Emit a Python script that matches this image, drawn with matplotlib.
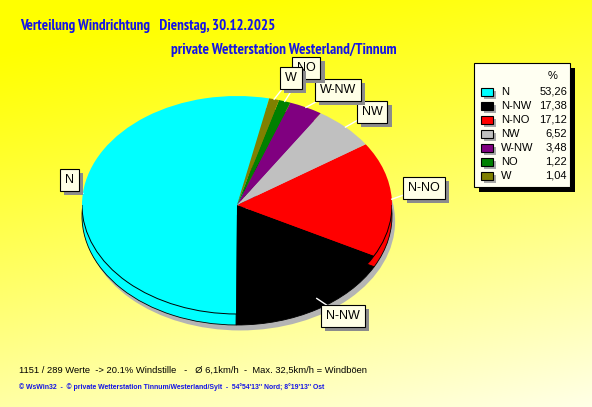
import numpy as np
import matplotlib.pyplot as plt
from matplotlib import font_manager
from matplotlib.font_manager import FontProperties
from matplotlib.patches import Rectangle, Ellipse, Arc
from matplotlib import patheffects as pe

# Data
directions = ['N', 'N-NW', 'N-NO', 'NW', 'W-NW', 'NO', 'W']
percent = [53.26, 17.38, 17.12, 6.52, 3.48, 1.22, 1.04]
colors = ['#00FFFF', '#000000', '#FF0000', '#C0C0C0', '#800080', '#008000', '#808000']

title_left = 'Verteilung Windrichtung   Dienstag, 30.12.2025'
title_right = 'private Wetterstation Westerland/Tinnum'
info_line = '1151 / 289 Werte  -> 20.1% Windstille   -   Ø 6,1km/h  -  Max. 32,5km/h = Windböen'
footer = "© WsWin32  -  © private Wetterstation Tinnum/Westerland/Sylt  -  54°54'13'' Nord; 8°19'13'' Ost"

# label box centres in pixels (layout only)
label_pos = {'N': (69, 180), 'N-NW': (343, 316), 'N-NO': (424, 188), 'NW': (372, 112),
             'W-NW': (338, 90), 'NO': (306, 68), 'W': (291, 78)}

W, H = 592, 407
names = {f.name for f in font_manager.fontManager.ttflist}
regular = 'Liberation Sans' if 'Liberation Sans' in names else 'DejaVu Sans'


def find_font(keys):
    for f in font_manager.fontManager.ttflist:
        s = (f.fname + ' ' + f.name).lower()
        if all(k in s for k in keys):
            return FontProperties(fname=f.fname)
    return None


title_font = (find_font(['narrow', 'bold']) or find_font(['condensed', 'bold'])
              or FontProperties(family='DejaVu Sans', weight='bold'))

fig = plt.figure(figsize=(W / 100, H / 100), dpi=100)
renderer = fig.canvas.get_renderer()


def fit_text(ax, x, y, s, width, size, **kw):
    # shrink / grow font so that the text spans the given pixel width
    t = ax.text(x, y, s, fontsize=size, **kw)
    w = t.get_window_extent(renderer).width
    t.set_fontsize(size * width / w)
    return t


# background gradient yellow -> pale
bg = fig.add_axes([0, 0, 1, 1])
bg.set_xlim(0, W)
bg.set_ylim(H, 0)
bg.axis('off')
yy, xx = np.mgrid[0:H, 0:W]
t = np.clip(0.8 * yy / H + 0.25 * xx / W - 0.1, 0, 1)
blue = 245 * t ** 1.1
img = np.dstack([np.ones_like(t), np.ones_like(t), blue / 255.0])
bg.imshow(img, extent=[0, W, H, 0], aspect='auto', zorder=0)

# pie axes, elliptical 3D-ish pie
cx, cy, rx, ry, depth = 237, 205, 155, 109, 11
d = depth / ry
ax = fig.add_axes([(cx - rx) / W, (H - (cy + ry + depth)) / H, 2 * rx / W, (2 * ry + depth) / H])
ax.patch.set_alpha(0)

shadow = Ellipse((0.02, -d - 0.05), 2, 2, fc='#B4B4B4', ec='none', zorder=0.5, clip_on=False)
ax.add_patch(shadow)
side, _ = ax.pie(percent, colors=colors, startangle=78, counterclock=True, radius=1,
                 center=(0, -d), wedgeprops=dict(edgecolor='black', linewidth=0.6))
face, _ = ax.pie(percent, colors=colors, startangle=78, counterclock=True, radius=1,
                 wedgeprops=dict(edgecolor='none', linewidth=0))
ax.add_patch(Arc((0, 0), 2, 2, theta1=180, theta2=360, color='black', lw=0.7))
ax.set_aspect('auto')
ax.set_xlim(-1, 1)
ax.set_ylim(-1 - d, 1)
ax.axis('off')
for p in side + face:
    p.set_clip_on(False)

# overlay for labels, legend, text
top = fig.add_axes([0, 0, 1, 1])
top.set_xlim(0, W)
top.set_ylim(H, 0)
top.axis('off')
top.patch.set_alpha(0)

box_shadow = [pe.SimplePatchShadow(offset=(3, -3), shadow_rgbFace='#8C8C8C', alpha=1), pe.Normal()]
to_px = top.transData.inverted()
for w, name in zip(face, directions):
    mid = np.deg2rad((w.theta1 + w.theta2) / 2)
    disp = ax.transData.transform((np.cos(mid), np.sin(mid)))
    px, py = to_px.transform(disp)
    lx, ly = label_pos[name]
    top.plot([px, lx], [py, ly], color='white', lw=1, zorder=2)
    lab = top.text(lx, ly, name, fontsize=9, family=regular, color='black',
                   ha='center', va='center', zorder=4,
                   bbox=dict(boxstyle='square,pad=0.4', fc='#FFFFE6', ec='black', lw=0.8))
    lab.get_bbox_patch().set_path_effects(box_shadow)

# legend
top.add_patch(Rectangle((479, 68), 96, 124, fc='black', ec='none', zorder=5))
top.add_patch(Rectangle((474, 63), 96, 124, fc='#FFFFF2', ec='black', lw=0.8, zorder=6))
top.text(553, 76, '%', fontsize=8, family=regular, ha='center', va='center', zorder=7)
for i, (name, val, col) in enumerate(zip(directions, percent, colors)):
    y = 92 + i * 14
    top.add_patch(Rectangle((484, y - 1), 12, 8, fc='#A8A8A8', ec='none', zorder=7))
    top.add_patch(Rectangle((481, y - 4), 12, 8, fc=col, ec='black', lw=0.8, zorder=8))
    top.text(501, y, name, fontsize=8, family=regular, va='center', zorder=8)
    top.text(567, y, f'{val:.2f}'.replace('.', ','), fontsize=8, family=regular,
             ha='right', va='center', zorder=8)

# titles and footer
fit_text(top, 20, 26, title_left, 258, 10.5, fontproperties=title_font, color='#1414E6',
         va='center')
fit_text(top, 171, 50, title_right, 228, 10.5, fontproperties=title_font, color='#1414E6',
         va='center')
fit_text(top, 19, 370, info_line, 349, 8, family=regular, color='black', va='center')
fit_text(top, 19, 387, footer, 308, 5.8, family=regular, weight='bold', color='#1414E6',
         va='center')

fig.savefig('out.png', dpi=100)
